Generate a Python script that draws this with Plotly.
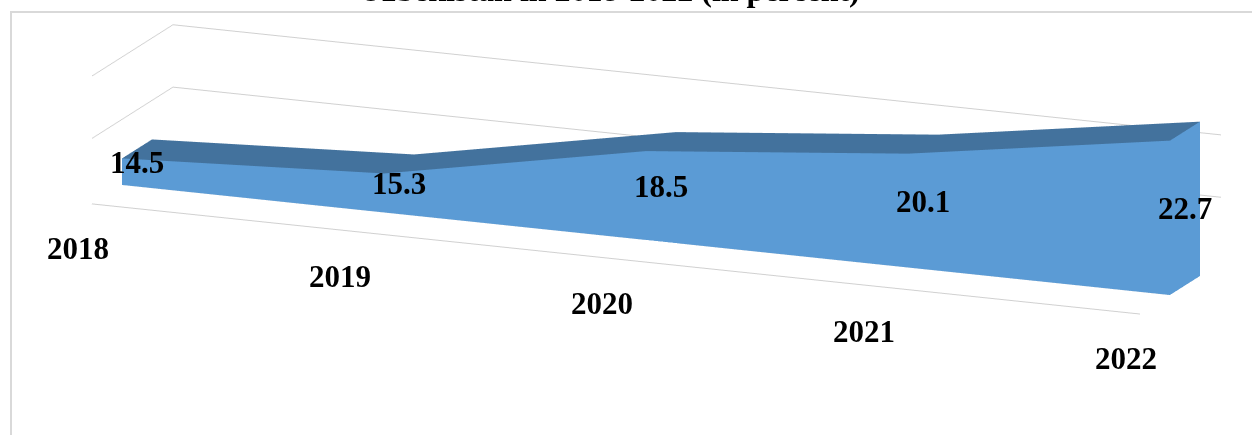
import plotly.graph_objects as go

# ---- data ----
years = ["2018", "2019", "2020", "2021", "2022"]
values = [14.5, 15.3, 18.5, 20.1, 22.7]
title_text = "Uzbekistan in 2018-2022 (in percent)"

# ---- axis settings (value-axis floor / gridlines, depth axis) ----
axis_min, axis_max = 12.8, 23
grid_values = [17, 21]
depth_range = [0, 2.7]
area_front, area_back = 1.0, 2.0

FONT = "Liberation Serif, Times New Roman, serif"
FRONT_COLOR = "#5b9bd5"
TOP_COLOR = "#43729d"
GRID_COLOR = "#d0d0d0"
BORDER_COLOR = "#d9d9d9"

idx = list(range(len(years)))

# vertices: for each category 4 corners (front-bottom, front-top, back-bottom, back-top)
vx, vy, vz = [], [], []
for i, v in zip(idx, values):
    for d, z in [(area_front, axis_min), (area_front, v), (area_back, axis_min), (area_back, v)]:
        vx.append(i)
        vy.append(d)
        vz.append(z)

fi, fj, fk = [], [], []   # front face (+ right end face, same colour)
ti, tj, tk = [], [], []   # top / back / bottom / left end
def add(lst, a, b, c):
    lst[0].append(a); lst[1].append(b); lst[2].append(c)

front = (fi, fj, fk)
other = (ti, tj, tk)
for i in idx[:-1]:
    b = 4 * i
    add(front, b, b + 4, b + 5); add(front, b, b + 5, b + 1)
    add(other, b + 1, b + 5, b + 7); add(other, b + 1, b + 7, b + 3)
    add(other, b + 2, b + 6, b + 7); add(other, b + 2, b + 7, b + 3)
    add(other, b, b + 4, b + 6); add(other, b, b + 6, b + 2)
last = 4 * idx[-1]
add(other, 0, 1, 3); add(other, 0, 3, 2)
add(front, last, last + 1, last + 3); add(front, last, last + 3, last + 2)

flat = dict(ambient=1, diffuse=0, specular=0, roughness=1, fresnel=0)

fig = go.Figure()
fig.add_trace(go.Mesh3d(x=vx, y=vy, z=vz, i=ti, j=tj, k=tk, color=TOP_COLOR,
                        flatshading=True, lighting=flat, hoverinfo="skip", showscale=False))
fig.add_trace(go.Mesh3d(x=vx, y=vy, z=vz, i=fi, j=fj, k=fk, color=FRONT_COLOR,
                        flatshading=True, lighting=flat, hoverinfo="skip", showscale=False))

lab_font = dict(family=FONT, size=31, color="black", weight="bold")
eps_d = 0.01 * (depth_range[1] - depth_range[0])
eps_z = 0.01 * (axis_max - axis_min)
annotations = []
for i, v in zip(idx, values):
    annotations.append(dict(x=i, y=(area_front + area_back) / 2, z=(axis_min + v) / 2,
                            text=f"{v}", showarrow=False, font=lab_font))
for i, yr in zip(idx, years):
    annotations.append(dict(x=i, y=depth_range[0] + eps_d, z=axis_min + eps_z, text=yr,
                            showarrow=False, yshift=-47, xshift=-15, font=lab_font))

hidden = dict(showgrid=False, zeroline=False, showticklabels=False, showbackground=False,
              showspikes=False, ticks="", title=dict(text=""))

fig.update_layout(
    width=1252, height=435,
    margin=dict(l=0, r=0, t=0, b=0),
    paper_bgcolor="white",
    showlegend=False,
    scene=dict(
        domain=dict(x=[0, 1], y=[0, 1]),
        xaxis=dict(range=[idx[0], idx[-1]], showline=True, linecolor=GRID_COLOR, linewidth=2, **hidden),
        yaxis=dict(range=depth_range, showline=False, **hidden),
        zaxis=dict(range=[axis_min, axis_max], tickvals=grid_values, showgrid=True,
                   gridcolor=GRID_COLOR, gridwidth=2, zeroline=False, showticklabels=False,
                   showbackground=False, showspikes=False, ticks="", showline=False,
                   title=dict(text="")),
        aspectmode="manual",
        aspectratio=dict(x=5.203, y=0.987, z=0.757),
        camera=dict(eye=dict(x=1.3566, y=-3.7018, z=0.7486),
                    center=dict(x=-0.1014, y=-0.1228, z=-0.2830),
                    up=dict(x=0, y=0, z=1), projection=dict(type="orthographic")),
        annotations=annotations,
        bgcolor="rgba(0,0,0,0)",
    ),
    annotations=[dict(xref="paper", yref="paper", x=0.487, y=1, yanchor="bottom", yshift=-10,
                      text=title_text, showarrow=False,
                      font=dict(family=FONT, size=32, color="black", weight="bold"))],
    shapes=[dict(type="rect", xref="paper", yref="paper", x0=11 / 1252, x1=1.05,
                 y0=-0.05, y1=1 - 12 / 435, line=dict(color=BORDER_COLOR, width=2),
                 fillcolor="rgba(0,0,0,0)", layer="below")],
)

fig.write_html("out.html", config={"displayModeBar": False},
               post_script="document.body.style.margin='0px';")
